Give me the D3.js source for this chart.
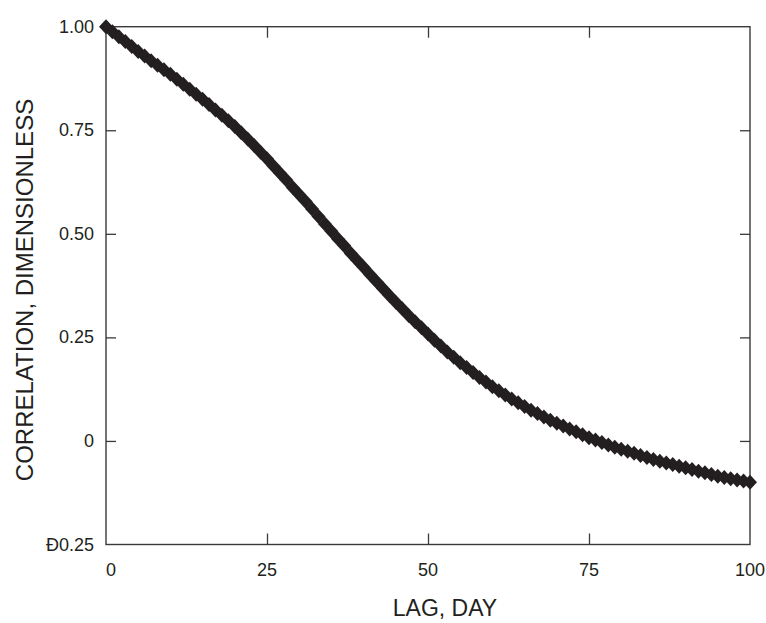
<!DOCTYPE html>
<html>
<head>
<meta charset="utf-8">
<script src="https://cdn.jsdelivr.net/npm/d3@7"></script>
<style>
  body { margin: 0; background: #fff; }
  svg { display: block; }
  text { font-family: "Liberation Sans", Arial, Helvetica, sans-serif; fill: #231f20; }
</style>
</head>
<body>
<svg id="chart" width="766" height="623"></svg>
<script>
// Lag (days) and correlation values
const lags = d3.range(0, 101);
const correlation = [
  1.000, 0.988, 0.976, 0.964, 0.952, 0.940, 0.929, 0.918, 0.907, 0.896,
  0.885, 0.873, 0.861, 0.849, 0.837, 0.825, 0.812, 0.799, 0.786, 0.773,
  0.759, 0.744, 0.729, 0.713, 0.697, 0.681, 0.664, 0.647, 0.630, 0.612,
  0.595, 0.578, 0.560, 0.542, 0.524, 0.506, 0.488, 0.471, 0.453, 0.436,
  0.419, 0.402, 0.385, 0.368, 0.351, 0.335, 0.319, 0.303, 0.288, 0.273,
  0.258, 0.243, 0.229, 0.215, 0.202, 0.189, 0.177, 0.165, 0.153, 0.142,
  0.131, 0.121, 0.111, 0.101, 0.092, 0.083, 0.074, 0.066, 0.058, 0.050,
  0.043, 0.036, 0.029, 0.022, 0.015, 0.008, 0.002, -0.004, -0.010, -0.015,
  -0.020, -0.025, -0.030, -0.035, -0.040, -0.045, -0.049, -0.053, -0.057, -0.061,
  -0.065, -0.069, -0.073, -0.077, -0.081, -0.085, -0.088, -0.091, -0.094, -0.097,
  -0.100
];
const xTicks = [0, 25, 50, 75, 100];
const xTickLabels = ["0", "25", "50", "75", "100"];
const yTicks = [-0.25, 0, 0.25, 0.5, 0.75, 1.0];
const yTickLabels = ["Đ0.25", "0", "0.25", "0.50", "0.75", "1.00"];
const xTitle = "LAG, DAY";
const yTitle = "CORRELATION, DIMENSIONLESS";

const svg = d3.select("#chart");
const L = 106, R = 750, T = 26.7, B = 544.5;
const x = d3.scaleLinear().domain([0, 100]).range([L, R]);
const y = d3.scaleLinear().domain([-0.25, 1.0]).range([B, T]);
const ink = "#231f20";
const frame = "#3a3a3a";

// Ticks (inward) on all four sides, drawn with d3 axes
const tickLen = 11;
const inner = xTicks.slice(1, -1);
svg.append("g").attr("transform", `translate(0,${B})`)
  .call(d3.axisTop(x).tickValues(inner).tickSize(tickLen).tickFormat(""))
  .call(g => g.select(".domain").remove())
  .selectAll("line").attr("stroke", frame).attr("stroke-width", 1.3);
svg.append("g").attr("transform", `translate(0,${T})`)
  .call(d3.axisBottom(x).tickValues(inner).tickSize(tickLen).tickFormat(""))
  .call(g => g.select(".domain").remove())
  .selectAll("line").attr("stroke", frame).attr("stroke-width", 1.3);
const yInner = yTicks.slice(1, -1);
svg.append("g").attr("transform", `translate(${L},0)`)
  .call(d3.axisRight(y).tickValues(yInner).tickSize(10).tickFormat(""))
  .call(g => g.select(".domain").remove())
  .selectAll("line").attr("stroke", frame).attr("stroke-width", 1.3);
svg.append("g").attr("transform", `translate(${R},0)`)
  .call(d3.axisLeft(y).tickValues(yInner).tickSize(10).tickFormat(""))
  .call(g => g.select(".domain").remove())
  .selectAll("line").attr("stroke", frame).attr("stroke-width", 1.3);

// Frame
svg.append("rect").attr("x", L).attr("y", T).attr("width", R - L).attr("height", B - T)
  .attr("fill", "none").attr("stroke", frame).attr("stroke-width", 1.4);

// Tick labels
svg.append("g").selectAll("text").data(xTicks).join("text")
  .attr("x", d => x(d) + (d === 0 ? 5 : 0)).attr("y", 576)
  .attr("text-anchor", "middle").attr("font-size", 18)
  .text((d, i) => xTickLabels[i]);
svg.append("g").selectAll("text").data(yTicks).join("text")
  .attr("x", 94).attr("y", d => y(d) + 6)
  .attr("text-anchor", "end").attr("font-size", 18)
  .text((d, i) => yTickLabels[i]);

// Axis titles
svg.append("text").attr("x", 445).attr("y", 616)
  .attr("text-anchor", "middle").attr("font-size", 23).text(xTitle);
svg.append("text").attr("transform", `translate(33,290) rotate(-90)`)
  .attr("text-anchor", "middle").attr("font-size", 24).text(yTitle);

// Diamond markers
const diamond = "M0,-7.5L7,0L0,7.5L-7,0Z";
svg.append("g").selectAll("path").data(lags).join("path")
  .attr("transform", (d, i) => `translate(${x(d)},${y(correlation[i])})`)
  .attr("d", diamond).attr("fill", ink);
</script>
</body>
</html>
